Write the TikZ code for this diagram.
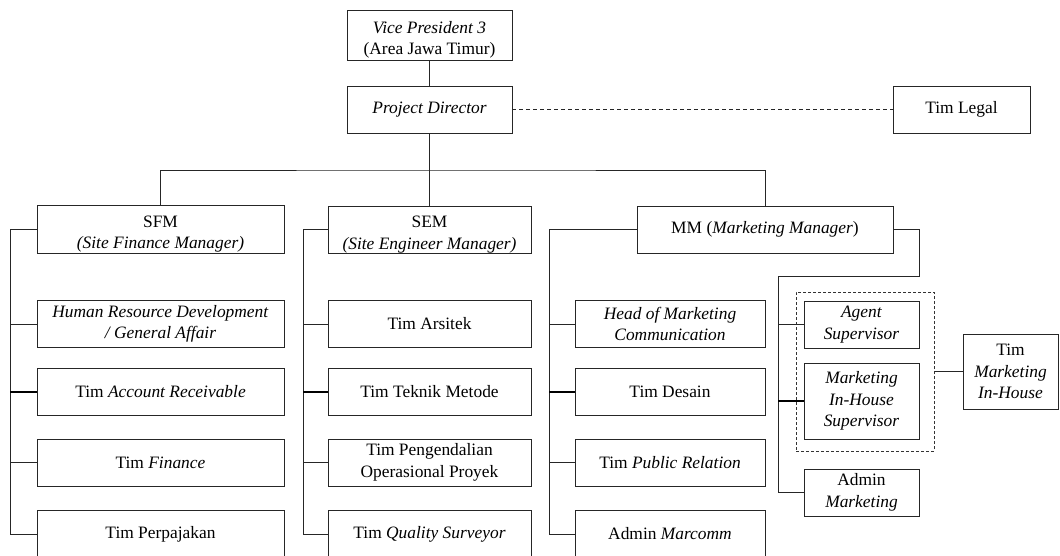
\documentclass[tikz,border=0pt]{standalone}
\usepackage{fontspec}
\setmainfont{Liberation Serif}
\usetikzlibrary{calc}
% extra head room on the first line of a few title boxes
\newcommand{\headroom}{\rule{0pt}{21.5pt}}
\begin{document}
\begin{tikzpicture}[x=1pt,y=-1pt,
  box/.style={draw=black!85, line width=0.8pt, inner sep=0pt, outer sep=0pt,
    align=center, font=\fontsize{17.4}{21.5}\selectfont},
  link/.style={draw=black!85, line width=0.8pt},
  heavy/.style={draw=black, line width=1.5pt},
  grp/.style={draw=black!80, line width=0.8pt, dashed, dash pattern=on 3pt off 2pt,
    inner sep=0pt, outer sep=0pt}]
\clip (0,0) rectangle (1060,555);
\fill[white] (0,0) rectangle (1060,555);

% top of the hierarchy
\node[box, minimum width=165, minimum height=50] (VP) at (429.5,35)
  {\headroom\textit{Vice President 3}\\(Area Jawa Timur)};
\node[box, minimum width=165, minimum height=47] (PD) at (429.5,109.5)
  {\textit{Project Director}};
\node[box, minimum width=137, minimum height=47] (LEG) at (961.5,109.5)
  {Tim Legal};

% managers
\node[box, minimum width=247, minimum height=48] (SFM) at (160.5,229)
  {\headroom SFM\\\textit{(Site Finance Manager)}};
\node[box, minimum width=203, minimum height=47] (SEM) at (429.5,229.5)
  {\headroom SEM\\\textit{(Site Engineer Manager)}};
\node[box, minimum width=256, minimum height=47] (MM) at (765,229.5)
  {MM (\textit{Marketing Manager})};

% finance teams
\node[box, minimum width=247, minimum height=47] (F1) at (160.5,324)
  {\textit{Human Resource Development}\\\textit{/ General Affair}};
\node[box, minimum width=247, minimum height=47] (F2) at (160.5,392)
  {Tim \textit{Account Receivable}};
\node[box, minimum width=247, minimum height=47] (F3) at (160.5,462.5)
  {Tim \textit{Finance}};
\node[box, minimum width=247, minimum height=48] (F4) at (160.5,534)
  {Tim Perpajakan};

% engineering teams
\node[box, minimum width=203, minimum height=47] (E1) at (429.5,324)
  {Tim Arsitek};
\node[box, minimum width=203, minimum height=47] (E2) at (429.5,392)
  {Tim Teknik Metode};
\node[box, minimum width=203, minimum height=47] (E3) at (429.5,462.5)
  {Tim Pengendalian\\Operasional Proyek};
\node[box, minimum width=203, minimum height=48] (E4) at (429.5,534)
  {Tim \textit{Quality Surveyor}};

% marketing communication teams
\node[box, minimum width=190, minimum height=47] (M1) at (670,324)
  {\textit{Head of Marketing}\\\textit{Communication}};
\node[box, minimum width=190, minimum height=47] (M2) at (670,392)
  {Tim Desain};
\node[box, minimum width=190, minimum height=47] (M3) at (670,462.5)
  {Tim \textit{Public Relation}};
\node[box, minimum width=190, minimum height=48] (M4) at (670,534)
  {Admin \textit{Marcomm}};

% sales side
\node[grp, minimum width=138, minimum height=159] (GRP) at (865,371.5) {};
\node[box, minimum width=115, minimum height=47] (AGS) at (861.5,324.5)
  {\textit{Agent}\\\textit{Supervisor}};
\node[box, minimum width=115, minimum height=76] (MIH) at (861.5,401)
  {\textit{Marketing}\\\textit{In-House}\\\textit{Supervisor}};
\node[box, minimum width=115, minimum height=47] (ADM) at (861.5,492.5)
  {Admin\\\textit{Marketing}};
\node[box, minimum width=95, minimum height=75] (TMI) at (1010.5,371.5)
  {Tim\\\textit{Marketing}\\\textit{In-House}};

% bus points
\coordinate (bus) at (429.5,170);
\coordinate (fbus) at (10,0);
\coordinate (ebus) at (303,0);
\coordinate (mbus) at (549,0);
\coordinate (mmr) at (919,276);
\coordinate (sbus) at (778,276);

% connectors at the top
\draw[link] (VP.south) -- (PD.north);
\draw[link, dashed, dash pattern=on 4pt off 3pt] (PD.east) -- (LEG.west);
\draw[link] (PD.south) -- (SEM.north);
\draw[link] (SFM.north) |- (bus) -| (MM.north);

% finance branch
\draw[link] (SFM.west) -| (fbus |- F4.west) -- (F4.west);
\draw[link] (F1.west) -- (F1.west -| fbus);
\draw[heavy] (F2.west) -- (F2.west -| fbus);
\draw[link] (F3.west) -- (F3.west -| fbus);

% engineering branch
\draw[link] (SEM.west) -| (ebus |- E4.west) -- (E4.west);
\draw[link] (E1.west) -- (E1.west -| ebus);
\draw[heavy] (E2.west) -- (E2.west -| ebus);
\draw[link] (E3.west) -- (E3.west -| ebus);

% marketing communication branch
\draw[link] (MM.west) -| (mbus |- M4.west) -- (M4.west);
\draw[link] (M1.west) -- (M1.west -| mbus);
\draw[heavy] (M2.west) -- (M2.west -| mbus);
\draw[link] (M3.west) -- (M3.west -| mbus);

% sales branch
\draw[link] (MM.east) -| (mmr) -- (sbus) |- (ADM.west);
\draw[link] (AGS.west) -- (AGS.west -| sbus);
\draw[heavy] (MIH.west) -- (MIH.west -| sbus);
\draw[link] (GRP.east) -- (TMI.west);
\end{tikzpicture}
\end{document}
